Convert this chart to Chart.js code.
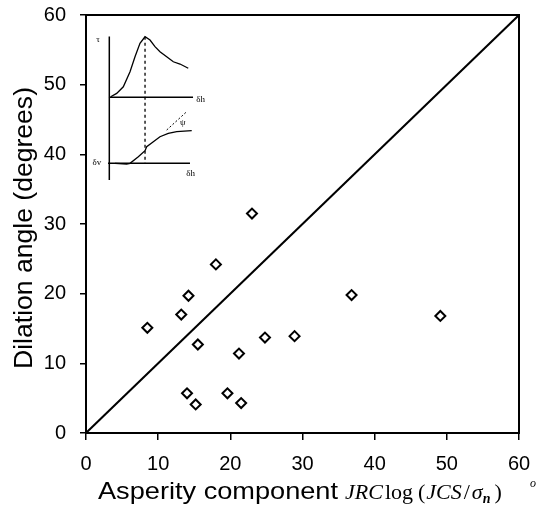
<!DOCTYPE html>
<html lang="en">
<head>
<meta charset="UTF-8" />
<title>Dilation angle vs asperity component</title>
<script src="https://cdn.jsdelivr.net/npm/chart.js@4.4.1/dist/chart.umd.min.js"></script>
<style>
  html, body { margin: 0; padding: 0; background: #fff; }
</style>
</head>
<body>
<canvas id="chart" width="538" height="509"></canvas>
<script>
// measured points
const asperity = [8.5, 13.2, 14.2, 18.0, 23.0, 15.5, 21.2, 24.8, 28.9, 36.8, 49.1, 14.0, 15.2, 19.6, 21.5];
const dilation = [15.1, 17.0, 19.7, 24.2, 31.5, 12.7, 11.4, 13.7, 13.9, 19.8, 16.8, 5.7, 4.1, 5.7, 4.3];

// 1:1 line
const lineX = [0, 60];
const lineY = [0, 60];

const axisMin = 0;
const axisMax = 60;
const axisStep = 10;

// inset sketch (shear stress / dilation vs shear displacement), in chart units
const insetAxisX = [3.23, 3.23];
const insetAxisY = [56.9, 36.3];
const upperBaseX = [3.18, 14.83];
const upperBaseY = [48.18, 48.18];
const upperCurveX = [3.42, 4.25, 5.17, 6.10, 6.79, 7.48, 8.18, 8.87, 9.56, 10.25, 11.18, 12.10, 13.03, 14.17];
const upperCurveY = [48.27, 48.75, 49.70, 51.86, 54.01, 55.93, 56.88, 56.40, 55.45, 54.73, 54.01, 53.29, 52.96, 52.35];
const peakX = [8.18, 8.18];
const peakY = [56.88, 38.71];
const lowerBaseX = [3.05, 14.41];
const lowerBaseY = [38.71, 38.71];
const lowerCurveX = [4.02, 5.64, 6.10, 7.25, 8.18, 8.41, 9.33, 10.25, 11.40, 12.57, 14.65];
const lowerCurveY = [38.71, 38.61, 38.71, 39.66, 40.52, 41.09, 41.81, 42.53, 43.01, 43.25, 43.39];
const tangentX = [11.18, 13.95];
const tangentY = [43.49, 46.12];
const insetLabels = [
  { text: "τ", x: 1.66, y: 56.4 },
  { text: "δh", x: 15.9, y: 47.9 },
  { text: "δh", x: 14.5, y: 37.3 },
  { text: "δv", x: 1.5, y: 38.75 },
  { text: "ψ", x: 13.4, y: 44.6 }
];

const toPts = (xs, ys) => xs.map((x, i) => ({ x: x, y: ys[i] }));

function lineSet(xs, ys, width, dash) {
  return {
    data: toPts(xs, ys),
    showLine: true,
    borderColor: "#000",
    borderWidth: width,
    borderDash: dash || [],
    pointRadius: 0,
    fill: false
  };
}

const frame = {
  id: "frame",
  afterDraw(chart) {
    const { ctx, chartArea: a, scales } = chart;
    ctx.save();
    ctx.strokeStyle = "#000";
    ctx.lineWidth = 2;
    ctx.strokeRect(a.left, a.top, a.right - a.left, a.bottom - a.top);

    // inset labels
    ctx.fillStyle = "#000";
    ctx.font = "9px 'Liberation Serif', serif";
    ctx.textAlign = "center";
    ctx.textBaseline = "middle";
    insetLabels.forEach((l) => {
      ctx.fillText(l.text, scales.x.getPixelForValue(l.x), scales.y.getPixelForValue(l.y));
    });

    // y title
    ctx.save();
    ctx.font = "25px 'Liberation Sans', Arial, sans-serif";
    const yt = "Dilation angle (degrees)";
    const yw = ctx.measureText(yt).width;
    ctx.translate(31.5, 228);
    ctx.rotate(-Math.PI / 2);
    ctx.scale(282 / yw, 1);
    ctx.textAlign = "center";
    ctx.textBaseline = "alphabetic";
    ctx.fillText(yt, 0, 0);
    ctx.restore();

    // x title
    const base = 499;
    ctx.textAlign = "left";
    ctx.textBaseline = "alphabetic";
    ctx.save();
    ctx.font = "24px 'Liberation Sans', Arial, sans-serif";
    const xt = "Asperity component";
    const xw = ctx.measureText(xt).width;
    ctx.translate(98, base);
    ctx.scale(240 / xw, 1);
    ctx.fillText(xt, 0, 0);
    ctx.restore();

    const it = "italic 22px 'Liberation Serif', 'Times New Roman', serif";
    const up = "22px 'Liberation Serif', 'Times New Roman', serif";
    const parts = [
      { t: "JRC", f: it, gap: 0, dy: 0 },
      { t: "log", f: up, gap: 2, dy: 0 },
      { t: "(", f: up, gap: 5, dy: 0 },
      { t: "JCS", f: it, gap: 1, dy: 0 },
      { t: "/", f: up, gap: 2, dy: 0 },
      { t: "σ", f: it, gap: 2, dy: 0 },
      { t: "n", f: "italic bold 14px 'Liberation Serif', serif", gap: 0, dy: 4 },
      { t: ")", f: up, gap: 4, dy: 0 }
    ];
    let px = 345;
    parts.forEach((p) => {
      ctx.font = p.f;
      px += p.gap;
      ctx.fillText(p.t, px, base + p.dy);
      px += ctx.measureText(p.t).width;
    });
    ctx.font = "italic 12px 'Liberation Serif', serif";
    ctx.fillText("o", 530, base - 12);
    ctx.restore();
  }
};

new Chart(document.getElementById("chart"), {
  type: "scatter",
  data: {
    datasets: [
      lineSet(lineX, lineY, 2),
      lineSet(insetAxisX, insetAxisY, 1.5),
      lineSet(upperBaseX, upperBaseY, 1.5),
      lineSet(upperCurveX, upperCurveY, 1.3),
      lineSet(peakX, peakY, 1.3, [3, 3]),
      lineSet(lowerBaseX, lowerBaseY, 1.5),
      lineSet(lowerCurveX, lowerCurveY, 1.3),
      lineSet(tangentX, tangentY, 1, [2, 2]),
      {
        data: toPts(asperity, dilation),
        pointStyle: "rectRot",
        pointRadius: 5,
        pointBorderWidth: 2,
        pointBorderColor: "#000",
        pointBackgroundColor: "#fff",
        showLine: false
      }
    ]
  },
  options: {
    responsive: false,
    animation: false,
    layout: { padding: { left: 0, right: 19, top: 15, bottom: 0 } },
    plugins: { legend: { display: false }, tooltip: { enabled: false } },
    scales: {
      x: {
        min: axisMin,
        max: axisMax,
        afterFit: (s) => {
          s.height = 76;
          s.paddingLeft = 0;
          s.paddingRight = 0;
        },
        border: { color: "#000", width: 2 },
        grid: { drawOnChartArea: false, color: "#000", lineWidth: 1.5, tickLength: 7 },
        ticks: {
          stepSize: axisStep,
          color: "#000",
          padding: 12,
          maxRotation: 0,
          font: { family: "'Liberation Sans', Arial, sans-serif", size: 20 }
        }
      },
      y: {
        min: axisMin,
        max: axisMax,
        afterFit: (s) => {
          s.width = 86;
          s.paddingTop = 0;
          s.paddingBottom = 0;
        },
        border: { color: "#000", width: 2 },
        grid: { drawOnChartArea: false, color: "#000", lineWidth: 1.5, tickLength: 6 },
        ticks: {
          stepSize: axisStep,
          color: "#000",
          padding: 14,
          font: { family: "'Liberation Sans', Arial, sans-serif", size: 20 }
        }
      }
    }
  },
  plugins: [frame]
});
</script>
</body>
</html>
